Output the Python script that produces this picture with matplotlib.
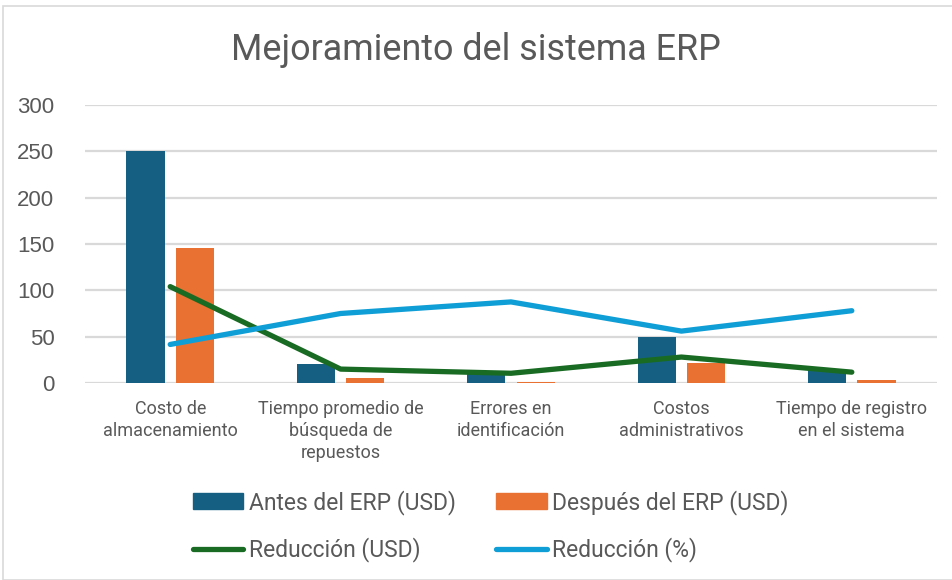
import matplotlib
matplotlib.use("Agg")
import matplotlib.pyplot as plt
import numpy as np
from matplotlib.patches import Rectangle, Patch
from matplotlib.lines import Line2D

categories = ["Costo de\nalmacenamiento", "Tiempo promedio de\nbúsqueda de\nrepuestos",
              "Errores en\nidentificación", "Costos\nadministrativos",
              "Tiempo de registro\nen el sistema"]
antes = [250, 20, 12, 50, 15]
despues = [146, 5, 1.5, 22, 3.3]
reduccion_usd = [104, 15, 10.5, 28, 11.7]
reduccion_pct = [41.6, 75, 87.5, 56, 78]
yticks = [0, 50, 100, 150, 200, 250, 300]

series_names = ["Antes del ERP (USD)", "Después del ERP (USD)", "Reducción (USD)", "Reducción (%)"]

c_antes = "#156082"
c_desp = "#E97132"
c_green = "#196B24"
c_blue = "#0F9ED5"
txt = "#595959"
grid = "#D9D9D9"
font_main = ["Roboto", "DejaVu Sans"]

W, H = 952, 580
fig = plt.figure(figsize=(W/100, H/100), dpi=100)
ax = fig.add_axes([85/W, 1-383/H, (937-85)/W, (383-105)/H])

x = np.arange(len(categories))
bw = 0.225
off = 0.145
ax.bar(x - off, antes, bw, color=c_antes, zorder=2)
ax.bar(x + off, despues, bw, color=c_desp, zorder=2)
ax.plot(x, reduccion_usd, color=c_green, lw=3.8, solid_capstyle="round", solid_joinstyle="round", zorder=3)
ax.plot(x, reduccion_pct, color=c_blue, lw=3.8, solid_capstyle="round", solid_joinstyle="round", zorder=3)

ax.set_xlim(-0.5, len(categories) - 0.5)
ax.set_ylim(0, 300)
ax.set_yticks(yticks)
ax.set_yticklabels([str(v) for v in yticks], fontsize=16, color=txt, family=["Liberation Sans"])
ax.yaxis.grid(True, color=grid, lw=1.6, zorder=0)
ax.set_axisbelow(True)
ax.tick_params(axis="y", length=0, pad=22)
ax.tick_params(axis="x", length=0, pad=12)
ax.set_xticks(x)
ax.set_xticklabels(categories, fontsize=13, color=txt, family=font_main, linespacing=1.3)
for s in ax.spines.values():
    s.set_visible(False)

fig.text(0.5, 1-50/H, "Mejoramiento del sistema ERP", ha="center", va="center",
         fontsize=25.8, color=txt, family=font_main)

h_antes = Patch(color=c_antes)
h_desp = Patch(color=c_desp)
h_green = Line2D([], [], color=c_green, lw=3.8, solid_capstyle="round")
h_blue = Line2D([], [], color=c_blue, lw=3.8, solid_capstyle="round")
handles = [h_antes, h_green, h_desp, h_blue]
labels = [series_names[0], series_names[2], series_names[1], series_names[3]]
leg = fig.legend(handles, labels, loc="center", bbox_to_anchor=(491/W, 1-526/H),
                 ncol=2, frameon=False, handlelength=2.2, handleheight=0.75,
                 handletextpad=0.25, columnspacing=1.75, labelspacing=1.0,
                 prop={"family": font_main, "size": 16.5})
for t in leg.get_texts():
    t.set_color(txt)

fig.patches.append(Rectangle((3/W, 0), 1.2, 1-6/H, transform=fig.transFigure,
                             fill=False, edgecolor="#D9D9D9", lw=1.2))

fig.savefig("out.png", dpi=100)
